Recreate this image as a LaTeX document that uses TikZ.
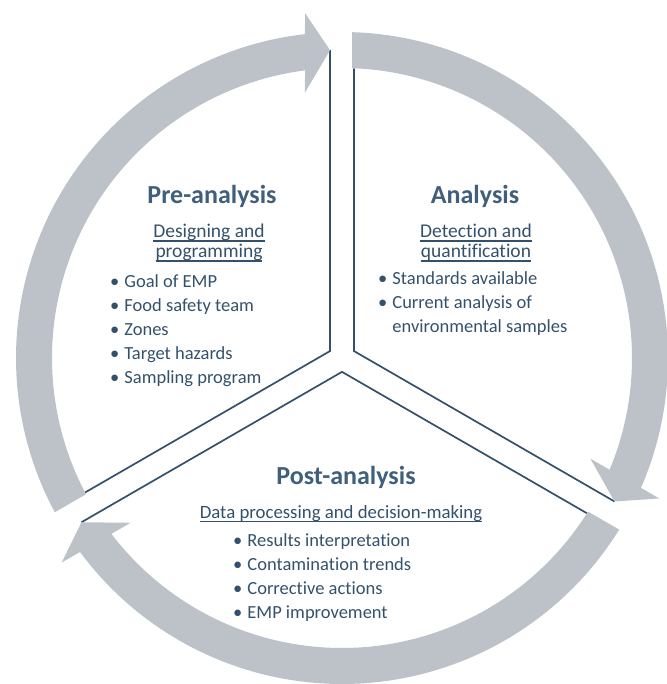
\documentclass[tikz,border=0pt]{standalone}
\usepackage{fontspec}
\setmainfont{Carlito}[Ligatures=CommonOff]
\definecolor{ringgray}{RGB}{189,194,200}
\definecolor{sepline}{HTML}{34506A}
\definecolor{titlecol}{HTML}{3F5F7C}
\definecolor{textcol}{HTML}{34516C}
\newcommand{\myul}[1]{\setbox0\hbox{#1}\rlap{\rule[-3.7pt]{\wd0}{1.2pt}}\box0}
\tikzset{
  ring/.style={fill=ringgray},
  sep/.style={draw=sepline, line width=1.7pt, line join=miter},
  ttl/.style={font=\fontsize{26}{30}\selectfont\bfseries, text=titlecol, inner sep=0pt, anchor=base},
  sub/.style={font=\fontsize{19.5}{20}\selectfont, text=textcol, inner sep=0pt, anchor=base},
  blist/.style={font=\fontsize{18.5}{24}\selectfont, text=textcol, inner sep=0pt, anchor=base west}
}
\newcommand{\bl}{\textbullet}
\begin{document}
\begin{tikzpicture}[x=1pt,y=1pt]
\useasboundingbox (-342,-326) rectangle (324,358);
% separator lines (Y-shaped double line)
\foreach \r in {0,-120,-240}{
  \draw[sep] (\r+92.23:308) -- (\r+150:13.86) -- (\r+207.63:290);
}
% curved arrows
\foreach \r in {0,-120,-240}{
  \fill[ring] (\r+208.24:326) arc[start angle=\r+208.24, end angle=\r+96.52, radius=326pt]
     -- (\r+96.12:347) -- (\r+92.23:308) -- (\r+97.94:268) -- (\r+97.33:290)
     arc[start angle=\r+97.33, end angle=\r+208.02, radius=290pt] -- cycle;
}
% Pre-analysis
\node[ttl] (pretitle) at (-130,154) {Pre-analysis};
\node[sub] (presubA) at (-133,120) {\myul{Designing and}};
\node[sub] (presubB) at (-133,100) {\myul{programming}};
\node[blist] (prelist) at (-232,70) {\begin{tabular}[t]{@{}l@{\hspace{5pt}}l@{}}
\bl & Goal of EMP\\
\bl & Food safety team\\
\bl & Zones\\
\bl & Target hazards\\
\bl & Sampling program
\end{tabular}};
% Analysis
\node[ttl] (antitle) at (133,154) {Analysis};
\node[sub] (ansubA) at (134,120) {\myul{Detection and}};
\node[sub] (ansubB) at (134,100) {\myul{quantification}};
\node[blist] (anlist) at (36,73) {\begin{tabular}[t]{@{}l@{\hspace{5pt}}l@{}}
\bl & Standards available\\
\bl & Current analysis of\\
    & environmental samples
\end{tabular}};
% Post-analysis
\node[ttl] (posttitle) at (4,-126) {Post-analysis};
\node[sub, font=\fontsize{18.8}{20}\selectfont] (postsub) at (-1,-160) {\myul{Data processing and decision-making}};
\node[blist] (postlist) at (-109,-188) {\begin{tabular}[t]{@{}l@{\hspace{5pt}}l@{}}
\bl & Results interpretation\\
\bl & Contamination trends\\
\bl & Corrective actions\\
\bl & EMP improvement
\end{tabular}};
\end{tikzpicture}
\end{document}
